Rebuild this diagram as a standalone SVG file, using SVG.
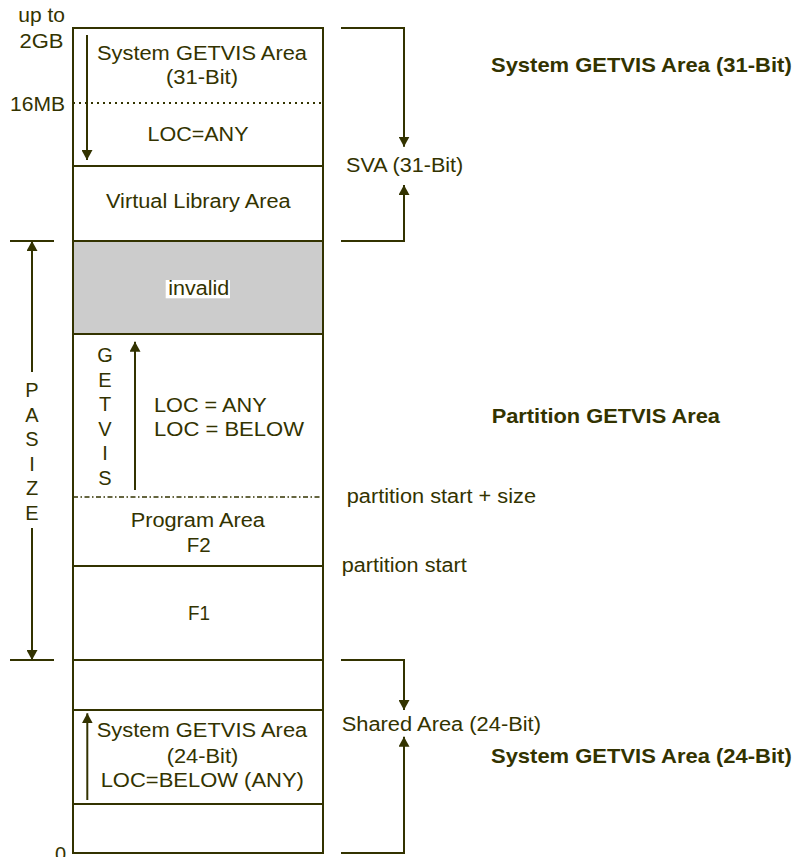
<svg xmlns="http://www.w3.org/2000/svg" width="793" height="857" viewBox="0 0 793 857">
<defs>
<marker id="ah" markerUnits="userSpaceOnUse" markerWidth="11" markerHeight="11" refX="10" refY="5.5" orient="auto">
<path d="M0,0 L10,5.5 L0,11 z" fill="#333300"/>
</marker>
<style>
text{font-family:"Liberation Sans",Arial,sans-serif;font-size:20px;fill:#333300}
.b{font-weight:bold;font-size:21px}
.c{text-anchor:middle}
.e{text-anchor:end}
.ln{stroke:#333300;stroke-width:2;fill:none}
.ar{stroke:#333300;stroke-width:2;fill:none;marker-end:url(#ah)}
</style>
</defs>
<rect width="793" height="857" fill="#ffffff"/>

<g id="memory-column">
<rect id="invalid-fill" x="73" y="241" width="250" height="93" fill="#cccccc"/>
<rect x="73" y="28" width="250" height="825" class="ln"/>
<line x1="73" y1="103" x2="323" y2="103" stroke="#333300" stroke-width="2" stroke-dasharray="2,4"/>
<line x1="73" y1="166" x2="323" y2="166" class="ln"/>
<line x1="73" y1="241" x2="323" y2="241" class="ln"/>
<line x1="73" y1="334" x2="323" y2="334" class="ln"/>
<line x1="73" y1="497" x2="323" y2="497" stroke="#333300" stroke-width="1.5" stroke-dasharray="5,2.5,1.5,2.5"/>
<line x1="73" y1="566" x2="323" y2="566" class="ln"/>
<line x1="73" y1="660" x2="323" y2="660" class="ln"/>
<line x1="73" y1="710" x2="323" y2="710" class="ln"/>
<line x1="73" y1="804" x2="323" y2="804" class="ln"/>
</g>

<g id="scale-labels">
<text class="e" x="65" y="22" textLength="46.7" lengthAdjust="spacingAndGlyphs">up to</text>
<text class="e" x="63.5" y="48" textLength="44" lengthAdjust="spacingAndGlyphs">2GB</text>
<text class="e" x="65" y="110.5" textLength="55" lengthAdjust="spacingAndGlyphs">16MB</text>
<text x="55" y="861">0</text>
</g>

<g id="system-getvis-31">
<text class="c" x="202" y="60" textLength="210" lengthAdjust="spacingAndGlyphs">System GETVIS Area</text>
<text class="c" x="202" y="84" textLength="72" lengthAdjust="spacingAndGlyphs">(31-Bit)</text>
<text class="c" x="198" y="140.7" textLength="101" lengthAdjust="spacingAndGlyphs">LOC=ANY</text>
</g>

<g id="virtual-library-area">
<text class="c" x="198.3" y="208" textLength="184.7" lengthAdjust="spacingAndGlyphs">Virtual Library Area</text>
</g>

<g id="invalid">
<rect x="165.7" y="280" width="64.3" height="18.3" fill="#ffffff"/>
<text class="c" x="198.8" y="295" textLength="61" lengthAdjust="spacingAndGlyphs">invalid</text>
</g>

<g id="partition-getvis">
<text class="c" x="105" y="361.7">G</text>
<text class="c" x="105" y="386.5">E</text>
<text class="c" x="105" y="411.2">T</text>
<text class="c" x="105" y="435.8">V</text>
<text class="c" x="105" y="460.4">I</text>
<text class="c" x="105" y="485">S</text>
<text x="154" y="411.7" textLength="112.7" lengthAdjust="spacingAndGlyphs">LOC = ANY</text>
<text x="154" y="436" textLength="150" lengthAdjust="spacingAndGlyphs">LOC = BELOW</text>
</g>

<g id="program-area">
<text class="c" x="197.8" y="526.7" textLength="134.3" lengthAdjust="spacingAndGlyphs">Program Area</text>
<text class="c" x="198.7" y="551.7" textLength="24" lengthAdjust="spacingAndGlyphs">F2</text>
</g>

<g id="f1">
<text class="c" x="199" y="620" textLength="22" lengthAdjust="spacingAndGlyphs">F1</text>
</g>

<g id="system-getvis-24">
<text class="c" x="202" y="737.3" textLength="210.6" lengthAdjust="spacingAndGlyphs">System GETVIS Area</text>
<text class="c" x="202.5" y="763" textLength="71.6" lengthAdjust="spacingAndGlyphs">(24-Bit)</text>
<text class="c" x="202.3" y="786.7" textLength="203.3" lengthAdjust="spacingAndGlyphs">LOC=BELOW (ANY)</text>
</g>

<g id="pasize">
<line x1="10" y1="241" x2="54" y2="241" class="ln"/>
<line x1="10" y1="660" x2="54" y2="660" class="ln"/>
<text class="c" x="32" y="397">P</text>
<text class="c" x="32" y="421.6">A</text>
<text class="c" x="32" y="446.2">S</text>
<text class="c" x="32" y="470.8">I</text>
<text class="c" x="32" y="495.4">Z</text>
<text class="c" x="32" y="520">E</text>
</g>

<g id="right-labels">
<text x="346" y="172.3" textLength="117.3" lengthAdjust="spacingAndGlyphs">SVA (31-Bit)</text>
<text x="346.7" y="503" textLength="189.3" lengthAdjust="spacingAndGlyphs">partition start + size</text>
<text x="341.7" y="571.7" textLength="125" lengthAdjust="spacingAndGlyphs">partition start</text>
<text x="341.7" y="730.7" textLength="199.3" lengthAdjust="spacingAndGlyphs">Shared Area (24-Bit)</text>
<text class="b" x="491" y="71.7" textLength="300.7" lengthAdjust="spacingAndGlyphs">System GETVIS Area (31-Bit)</text>
<text class="b" x="491.7" y="423.3" textLength="228.3" lengthAdjust="spacingAndGlyphs">Partition GETVIS Area</text>
<text class="b" x="491" y="763.3" textLength="300.7" lengthAdjust="spacingAndGlyphs">System GETVIS Area (24-Bit)</text>
</g>

<g id="connectors">
<line x1="87" y1="35" x2="87" y2="160" class="ar"/>
<line x1="32" y1="372" x2="32" y2="241" class="ar"/>
<line x1="32" y1="528" x2="32" y2="660" class="ar"/>
<line x1="135" y1="490" x2="135" y2="341.7" class="ar"/>
<line x1="87.3" y1="800" x2="87.3" y2="713.3" class="ar"/>
<polyline points="341,28 404,28 404,146.7" class="ar"/>
<polyline points="341,241 404,241 404,185" class="ar"/>
<polyline points="341,660 404,660 404,710" class="ar"/>
<polyline points="341,853 404,853 404,736.7" class="ar"/>
</g>
</svg>
